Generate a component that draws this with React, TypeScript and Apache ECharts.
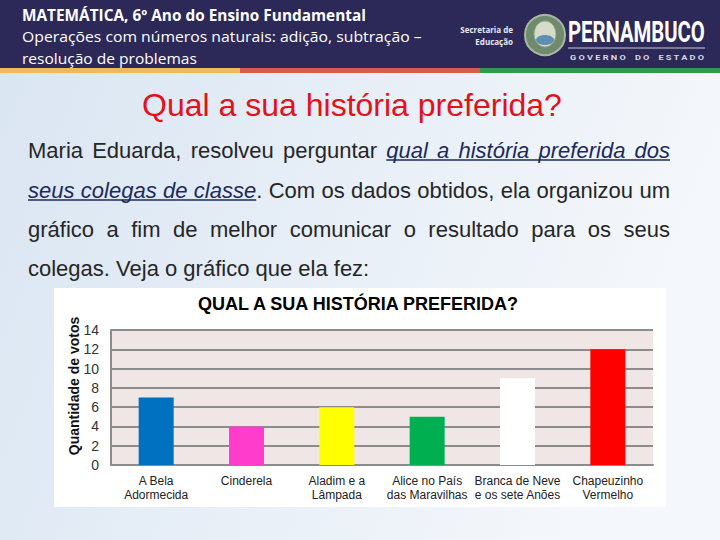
import React, { useEffect, useRef } from "react";
import * as echarts from "echarts";

// ---------- data ----------
const categories = [
  "A Bela\nAdormecida",
  "Cinderela",
  "Aladim e a\nLâmpada",
  "Alice no País\ndas Maravilhas",
  "Branca de Neve\ne os sete Anões",
  "Chapeuzinho\nVermelho",
];
const votes = [7, 4, 6, 5, 9, 12];
const barColors = ["#0070c0", "#ff3ccc", "#ffff00", "#00b050", "#ffffff", "#ff0000"];
const yMin = 0;
const yMax = 14;
const yInterval = 2;

const chartTitle = "QUAL A SUA HISTÓRIA PREFERIDA?";
const yAxisName = "Quantidade de votos";
const slideTitle = "Qual a sua história preferida?";
const headerLines = [
  "MATEMÁTICA, 6º Ano do Ensino Fundamental",
  "Operações com números naturais: adição, subtração –",
  "resolução de problemas",
];

// paragraph: lines -> words -> segments [text, underlinedItalic]
type Seg = [string, boolean];
const paragraph: Seg[][][] = [
  [[["Maria", false]], [["Eduarda,", false]], [["resolveu", false]], [["perguntar", false]],
   [["qual", true]], [["a", true]], [["história", true]], [["preferida", true]], [["dos", true]]],
  [[["seus", true]], [["colegas", true]], [["de", true]], [["classe", true], [".", false]],
   [["Com", false]], [["os", false]], [["dados", false]], [["obtidos,", false]], [["ela", false]],
   [["organizou", false]], [["um", false]]],
  [[["gráfico", false]], [["a", false]], [["fim", false]], [["de", false]], [["melhor", false]],
   [["comunicar", false]], [["o", false]], [["resultado", false]], [["para", false]], [["os", false]],
   [["seus", false]]],
  [[["colegas.", false]], [["Veja", false]], [["o", false]], [["gráfico", false]], [["que", false]],
   [["ela", false]], [["fez:", false]]],
];
const justified = [true, true, true, false];

const ARIAL = "'Liberation Sans', Arial, sans-serif";
const CAL = "'Open Sans', 'Noto Sans', sans-serif";

export default function App() {
  const ref = useRef<HTMLDivElement>(null);

  useEffect(() => {
    document.body.style.margin = "0";
    if (!ref.current) return;
    const chart = echarts.init(ref.current, undefined, { renderer: "svg" });

    const cv = document.createElement("canvas");
    const ctx = cv.getContext("2d")!;
    const measure = (text: string, font: string) => {
      ctx.font = font;
      return ctx.measureText(text).width;
    };
    const fitText = (
      text: string, x: number, y: number, target: number, size: number,
      weight: string, family: string, fill: string, extra: any = {}
    ) => {
      const w = measure(text, `${weight} ${size}px ${family}`) || target;
      return {
        type: "text", x, y, scaleX: target / w, z: 10,
        style: { text, x: 0, y: 0, fontSize: size, fontWeight: weight, fontFamily: family,
          fill, verticalAlign: "middle", align: "left", ...extra },
      };
    };

    const els: any[] = [];
    // backgrounds
    els.push({
      type: "rect", z: -20, shape: { x: 0, y: 0, width: 720, height: 540 },
      style: {
        fill: new echarts.graphic.LinearGradient(0, 0, 1, 0.3, [
          { offset: 0, color: "#d9e5f2" },
          { offset: 1, color: "#f4f7fb" },
        ]),
      },
    });
    els.push({ type: "rect", z: -19, shape: { x: 0, y: 0, width: 720, height: 68 }, style: { fill: "#2c2857" } });
    els.push({ type: "rect", z: -19, shape: { x: 0, y: 68, width: 240, height: 5 }, style: { fill: "#efb85a" } });
    els.push({ type: "rect", z: -19, shape: { x: 240, y: 68, width: 240, height: 5 }, style: { fill: "#d65c4e" } });
    els.push({ type: "rect", z: -19, shape: { x: 480, y: 68, width: 240, height: 5 }, style: { fill: "#2f9a4f" } });

    // header text
    els.push(fitText(headerLines[0], 22, 15, 344, 16, "bold", CAL, "#ffffff"));
    els.push(fitText(headerLines[1], 22, 37, 400, 15, "normal", CAL, "#ffffff"));
    els.push(fitText(headerLines[2], 22, 58, 175, 15, "normal", CAL, "#ffffff"));

    // logo
    els.push({ type: "text", z: 10, style: { text: "Secretaria de", x: 513, y: 29, align: "right", verticalAlign: "middle", fontSize: 8, fontWeight: "bold", fontFamily: CAL, fill: "#e8e8f0" } });
    els.push({ type: "text", z: 10, style: { text: "Educação", x: 513, y: 41, align: "right", verticalAlign: "middle", fontSize: 8, fontWeight: "bold", fontFamily: CAL, fill: "#e8e8f0" } });
    els.push({ type: "circle", z: 5, shape: { cx: 545, cy: 35, r: 20 }, style: { fill: "#6f8a6c", stroke: "#aab89c", lineWidth: 2 } });
    els.push({ type: "ellipse", z: 6, shape: { cx: 545, cy: 34, rx: 11, ry: 13 }, style: { fill: "#d7dcc8", stroke: "#8ea08a", lineWidth: 1 } });
    els.push({ type: "ellipse", z: 7, shape: { cx: 545, cy: 40, rx: 9, ry: 5 }, style: { fill: "#5f8fb5" } });
    els.push(fitText("PERNAMBUCO", 568, 31, 137, 30, "bold", "Roboto, sans-serif", "#ffffff"));
    els.push({ type: "line", z: 10, shape: { x1: 568, y1: 48, x2: 705, y2: 48 }, style: { stroke: "#c8c8d8", lineWidth: 1 } });
    els.push(fitText("G O V E R N O    D O    E S T A D O", 570, 57, 135, 7, "bold", "Roboto, sans-serif", "#d8d8e4"));

    // slide title
    els.push({ type: "text", z: 10, style: { text: slideTitle, x: 352, y: 105, align: "center", verticalAlign: "middle", fontSize: 32, fontFamily: ARIAL, fill: "#e2121b" } });

    // paragraph
    const lineY = [150, 190, 229, 268];
    const pSize = 22;
    const left = 28;
    const right = 670;
    const normalFont = `normal ${pSize}px ${ARIAL}`;
    const italicFont = `italic ${pSize}px ${ARIAL}`;
    const spaceW = measure(" ", normalFont);
    paragraph.forEach((words, li) => {
      const y = lineY[li];
      const widths = words.map((w) => w.map(([t, u]) => measure(t, u ? italicFont : normalFont)));
      const total = widths.reduce((a, ws) => a + ws.reduce((b, c) => b + c, 0), 0);
      const gap = justified[li] ? (right - left - total) / (words.length - 1) : spaceW;
      let x = left;
      let runStart: number | null = null;
      let runEnd = 0;
      const closeRun = () => {
        if (runStart !== null) {
          els.push({ type: "line", z: 10, shape: { x1: runStart, y1: y + 10, x2: runEnd, y2: y + 10 }, style: { stroke: "#1c2a5a", lineWidth: 1.3 } });
        }
        runStart = null;
      };
      words.forEach((w, wi) => {
        w.forEach(([t, u], si) => {
          const sw = widths[wi][si];
          els.push({
            type: "text", z: 10,
            style: { text: t, x, y, align: "left", verticalAlign: "middle", fontSize: pSize, fontFamily: ARIAL,
              fontStyle: u ? "italic" : "normal", fill: u ? "#1c2a5a" : "#262626" },
          });
          if (u) {
            if (runStart === null) runStart = x;
            runEnd = x + sw;
          } else {
            closeRun();
          }
          x += sw;
        });
        const next = words[wi + 1];
        if (!(next && next[0][1] && runStart !== null)) closeRun();
        x += gap;
      });
      closeRun();
    });

    // chart box, title and y-axis name
    els.push({ type: "rect", z: -5, shape: { x: 54, y: 288, width: 612, height: 219 }, style: { fill: "#ffffff" } });
    els.push({ type: "text", z: 10, style: { text: chartTitle, x: 358, y: 304, align: "center", verticalAlign: "middle", fontSize: 18, fontWeight: "bold", fontFamily: ARIAL, fill: "#000000" } });
    els.push({
      type: "text", z: 10, x: 74, y: 386, rotation: Math.PI / 2,
      style: { text: yAxisName, x: 0, y: 0, align: "center", verticalAlign: "middle", fontSize: 14, fontWeight: "bold", fontFamily: ARIAL, fill: "#111111" },
    });

    const option: any = {
      animation: false,
      graphic: { elements: els },
      grid: { left: 111, top: 330, width: 542, height: 135, show: true, backgroundColor: "#f0e6e6", borderWidth: 0 },
      xAxis: {
        type: "category",
        data: categories,
        axisLine: { lineStyle: { color: "#8c8c8c", width: 2 } },
        axisTick: { show: false },
        axisLabel: { color: "#222222", fontSize: 12, fontFamily: ARIAL, lineHeight: 14, margin: 9, interval: 0 },
      },
      yAxis: {
        type: "value",
        min: yMin,
        max: yMax,
        interval: yInterval,
        axisLine: { show: true, lineStyle: { color: "#8c8c8c", width: 2 } },
        axisTick: { show: false },
        splitLine: { lineStyle: { color: "#8c8c8c", width: 2 } },
        axisLabel: { color: "#333333", fontSize: 14, fontFamily: ARIAL, margin: 12 },
      },
      series: [
        {
          type: "bar",
          data: votes.map((v, i) => ({ value: v, itemStyle: { color: barColors[i] } })),
          barWidth: 35,
        },
      ],
    };
    chart.setOption(option);
    return () => chart.dispose();
  }, []);

  return <div ref={ref} style={{ width: 720, height: 540 }} />;
}
